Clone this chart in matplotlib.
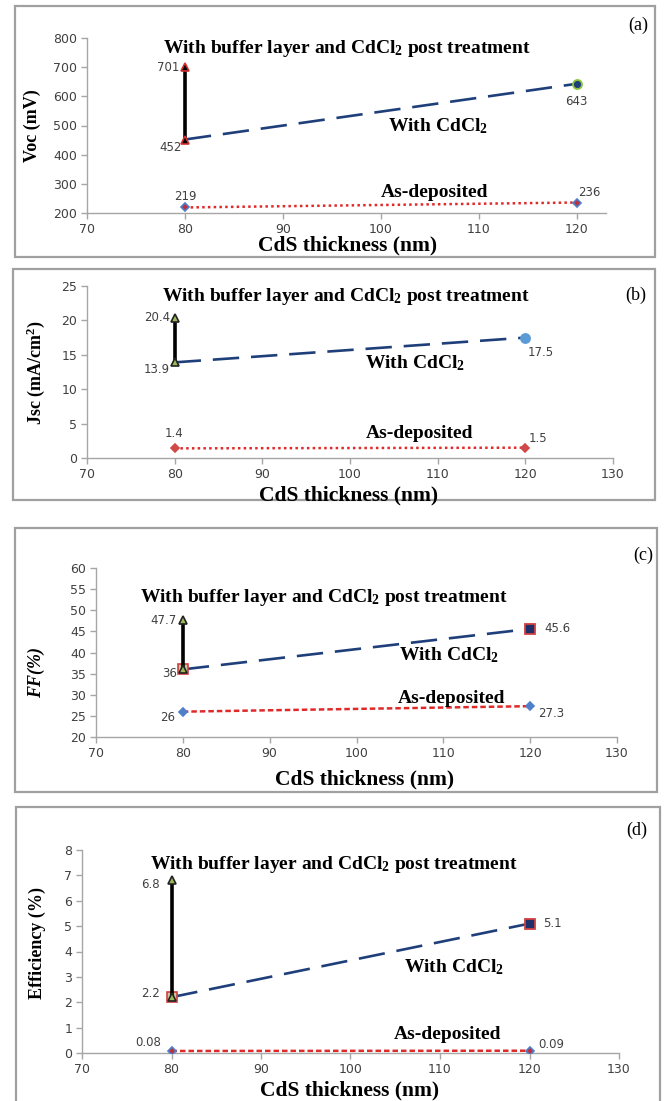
import matplotlib
matplotlib.use('Agg')
import matplotlib.pyplot as plt
from matplotlib.patches import Rectangle

plt.rcParams['mathtext.fontset'] = 'custom'
plt.rcParams['mathtext.rm'] = 'Liberation Serif:bold'
plt.rcParams['mathtext.bf'] = 'Liberation Serif:bold'
plt.rcParams['mathtext.it'] = 'Liberation Serif:bold:italic'

# data
thickness = [80, 120]
voc_asdep = [219, 236]
voc_cdcl2 = [452, 643]
voc_buffer = 701
jsc_asdep = [1.4, 1.5]
jsc_cdcl2 = [13.9, 17.5]
jsc_buffer = 20.4
ff_asdep = [26, 27.3]
ff_cdcl2 = [36, 45.6]
ff_buffer = 47.7
eff_asdep = [0.08, 0.09]
eff_cdcl2 = [2.2, 5.1]
eff_buffer = 6.8

W, H = 667, 1101
fig = plt.figure(figsize=(W / 100, H / 100), dpi=100)

serif = 'Liberation Serif'
sans = 'DejaVu Sans'
grey = '#404040'
axis_grey = '#a6a6a6'
red = '#e02a2a'
navy = '#1f3f7a'


def fx(x):
    return x / W


def fy(y):
    return 1 - y / H


def px_axes(x0, y0, x1, y1):
    return fig.add_axes([fx(x0), fy(y1), (x1 - x0) / W, (y1 - y0) / H])


def box(x0, y0, x1, y1):
    fig.patches.append(Rectangle((fx(x0), fy(y1)), (x1 - x0) / W, (y1 - y0) / H,
                                 transform=fig.transFigure, fill=False,
                                 ec='#a0a0a0', lw=1.6))


def style(ax, xlim, ylim, yticks, xticks):
    ax.set_xlim(*xlim)
    ax.set_ylim(*ylim)
    ax.set_xticks(xticks)
    ax.set_yticks(yticks)
    for s in ['top', 'right']:
        ax.spines[s].set_visible(False)
    for s in ['left', 'bottom']:
        ax.spines[s].set_color(axis_grey)
        ax.spines[s].set_linewidth(1.0)
    ax.tick_params(direction='out', length=4, width=1, color=axis_grey,
                   labelsize=9, labelcolor=grey, pad=3)
    for lab in ax.get_xticklabels() + ax.get_yticklabels():
        lab.set_family(sans)


def draw(ax, asdep, cdcl2, buffer, asdep_ls, asdep_mfc, asdep_mec,
         end_marker, end_mfc, end_mec, tri_fc, tri_ec, start_square):
    ax.plot(thickness, asdep, color=red, ls=asdep_ls, lw=1.8, zorder=2)
    ax.plot(thickness, asdep, ls='none', marker='D', ms=4.5, mfc=asdep_mfc,
            mec=asdep_mec, mew=1.2, zorder=3)
    ax.plot(thickness, cdcl2, color=navy, ls=(0, (10, 4.5)), lw=1.9, zorder=2)
    ax.plot(thickness[1:], cdcl2[1:], ls='none', marker=end_marker, ms=6.5,
            mfc=end_mfc, mec=end_mec, mew=1.3, zorder=3)
    if start_square:
        ax.plot(thickness[:1], cdcl2[:1], ls='none', marker='s', ms=6.5,
                mfc='#c8c8a0', mec='#d04040', mew=1.2, zorder=3)
    ax.plot([thickness[0], thickness[0]], [cdcl2[0], buffer], color='black',
            lw=2.6, zorder=4)
    ax.plot([thickness[0], thickness[0]], [cdcl2[0], buffer], ls='none',
            marker='^', ms=6, mfc=tri_fc, mec=tri_ec, mew=1.2, zorder=5)


def note(ax, x, y, s, size=14):
    ax.text(x, y, s, family=serif, weight='bold', fontsize=size,
            ha='center', va='center')


def val(ax, x, y, s):
    ax.text(x, y, s, family=sans, fontsize=8.5, color=grey,
            ha='center', va='center')


def fig_label(x, y, s, rot=0, size=15.5, style='normal'):
    fig.text(fx(x), fy(y), s, family=serif, weight='bold', fontsize=size,
             ha='center', va='center', rotation=rot, style=style)


buffer_txt = r'With buffer layer and CdCl$_2$ post treatment'
cdcl2_txt = r'With CdCl$_2$'
asdep_txt = 'As-deposited'

# (a) Voc
box(15, 6, 655, 257)
ax = px_axes(87, 38, 606, 213)
style(ax, (70, 123), (200, 800), range(200, 801, 100), range(70, 121, 10))
draw(ax, voc_asdep, voc_cdcl2, voc_buffer, (0, (1, 1.3)), '#c0303a', '#4f7fc8',
     'o', '#1f3f7a', '#8cc63f', 'black', '#d03030', False)
note(ax, 96.5, 765, buffer_txt)
note(ax, 105.8, 498, cdcl2_txt)
note(ax, 105.5, 269, asdep_txt)
val(ax, 78.3, 700, '701')
val(ax, 78.5, 423, '452')
val(ax, 120, 581, '643')
val(ax, 80, 255, '219')
val(ax, 121.3, 272, '236')
fig_label(348, 245, 'CdS thickness (nm)')
fig_label(32, 126, 'Voc (mV)', rot=90, size=13)
fig.text(fx(638), fy(25), '(a)', family=serif, fontsize=13, ha='center', va='center')

# (b) Jsc
box(13, 269, 655, 500)
ax = px_axes(87, 286, 613, 458)
style(ax, (70, 130), (0, 25), range(0, 26, 5), range(70, 131, 10))
draw(ax, jsc_asdep, jsc_cdcl2, jsc_buffer, (0, (1, 1.3)), '#d04848', '#d04848',
     'o', '#5b9bd5', '#5b9bd5', '#9bbb59', '#222222', False)
note(ax, 99.5, 23.5, buffer_txt)
note(ax, 107.4, 13.8, cdcl2_txt)
note(ax, 107.9, 3.6, asdep_txt)
val(ax, 78, 20.4, '20.4')
val(ax, 78, 12.8, '13.9')
val(ax, 121.7, 15.3, '17.5')
val(ax, 79.9, 3.5, '1.4')
val(ax, 121.4, 2.9, '1.5')
fig_label(349, 495, 'CdS thickness (nm)')
fig_label(36, 373, r'Jsc (mA/cm$^2$)', rot=90, size=13)
fig.text(fx(636), fy(295), '(b)', family=serif, fontsize=13, ha='center', va='center')

# (c) FF
box(15, 528, 657, 792)
ax = px_axes(96, 568, 617, 737)
style(ax, (70, 130), (20, 60), range(20, 61, 5), range(70, 131, 10))
draw(ax, ff_asdep, ff_cdcl2, ff_buffer, (0, (2.2, 1.2)), '#4f7fc8', '#4f7fc8',
     's', '#1f2f6a', '#d04040', '#9bbb59', '#222222', True)
note(ax, 96.3, 52.9, buffer_txt)
note(ax, 110.7, 39.4, cdcl2_txt)
note(ax, 110.9, 29.2, asdep_txt)
val(ax, 77.8, 47.5, '47.7')
val(ax, 78.5, 35.1, '36')
val(ax, 123.1, 45.6, '45.6')
val(ax, 78.3, 24.7, '26')
val(ax, 122.4, 25.6, '27.3')
fig_label(365, 779, 'CdS thickness (nm)')
fig_label(36, 672, 'FF(%)', rot=90, size=13, style='italic')
fig.text(fx(643), fy(555), '(c)', family=serif, fontsize=13, ha='center', va='center')

# (d) Efficiency
box(16, 807, 660, 1115)
ax = px_axes(82, 850, 619, 1053)
style(ax, (70, 130), (0, 8), range(0, 9, 1), range(70, 131, 10))
draw(ax, eff_asdep, eff_cdcl2, eff_buffer, (0, (2.2, 1.2)), '#c0303a', '#4f7fc8',
     's', '#1f2f6a', '#d04040', '#9bbb59', '#222222', True)
note(ax, 98.2, 7.42, buffer_txt)
note(ax, 111.6, 3.4, cdcl2_txt)
note(ax, 110.8, 0.72, asdep_txt)
val(ax, 77.7, 6.64, '6.8')
val(ax, 77.7, 2.33, '2.2')
val(ax, 122.6, 5.09, '5.1')
val(ax, 77.4, 0.4, '0.08')
val(ax, 122.4, 0.35, '0.09')
fig_label(350, 1090, 'CdS thickness (nm)')
fig_label(37, 943, 'Efficiency (%)', rot=90, size=13)
fig.text(fx(637), fy(830), '(d)', family=serif, fontsize=13, ha='center', va='center')

fig.savefig('out.png', dpi=100)
